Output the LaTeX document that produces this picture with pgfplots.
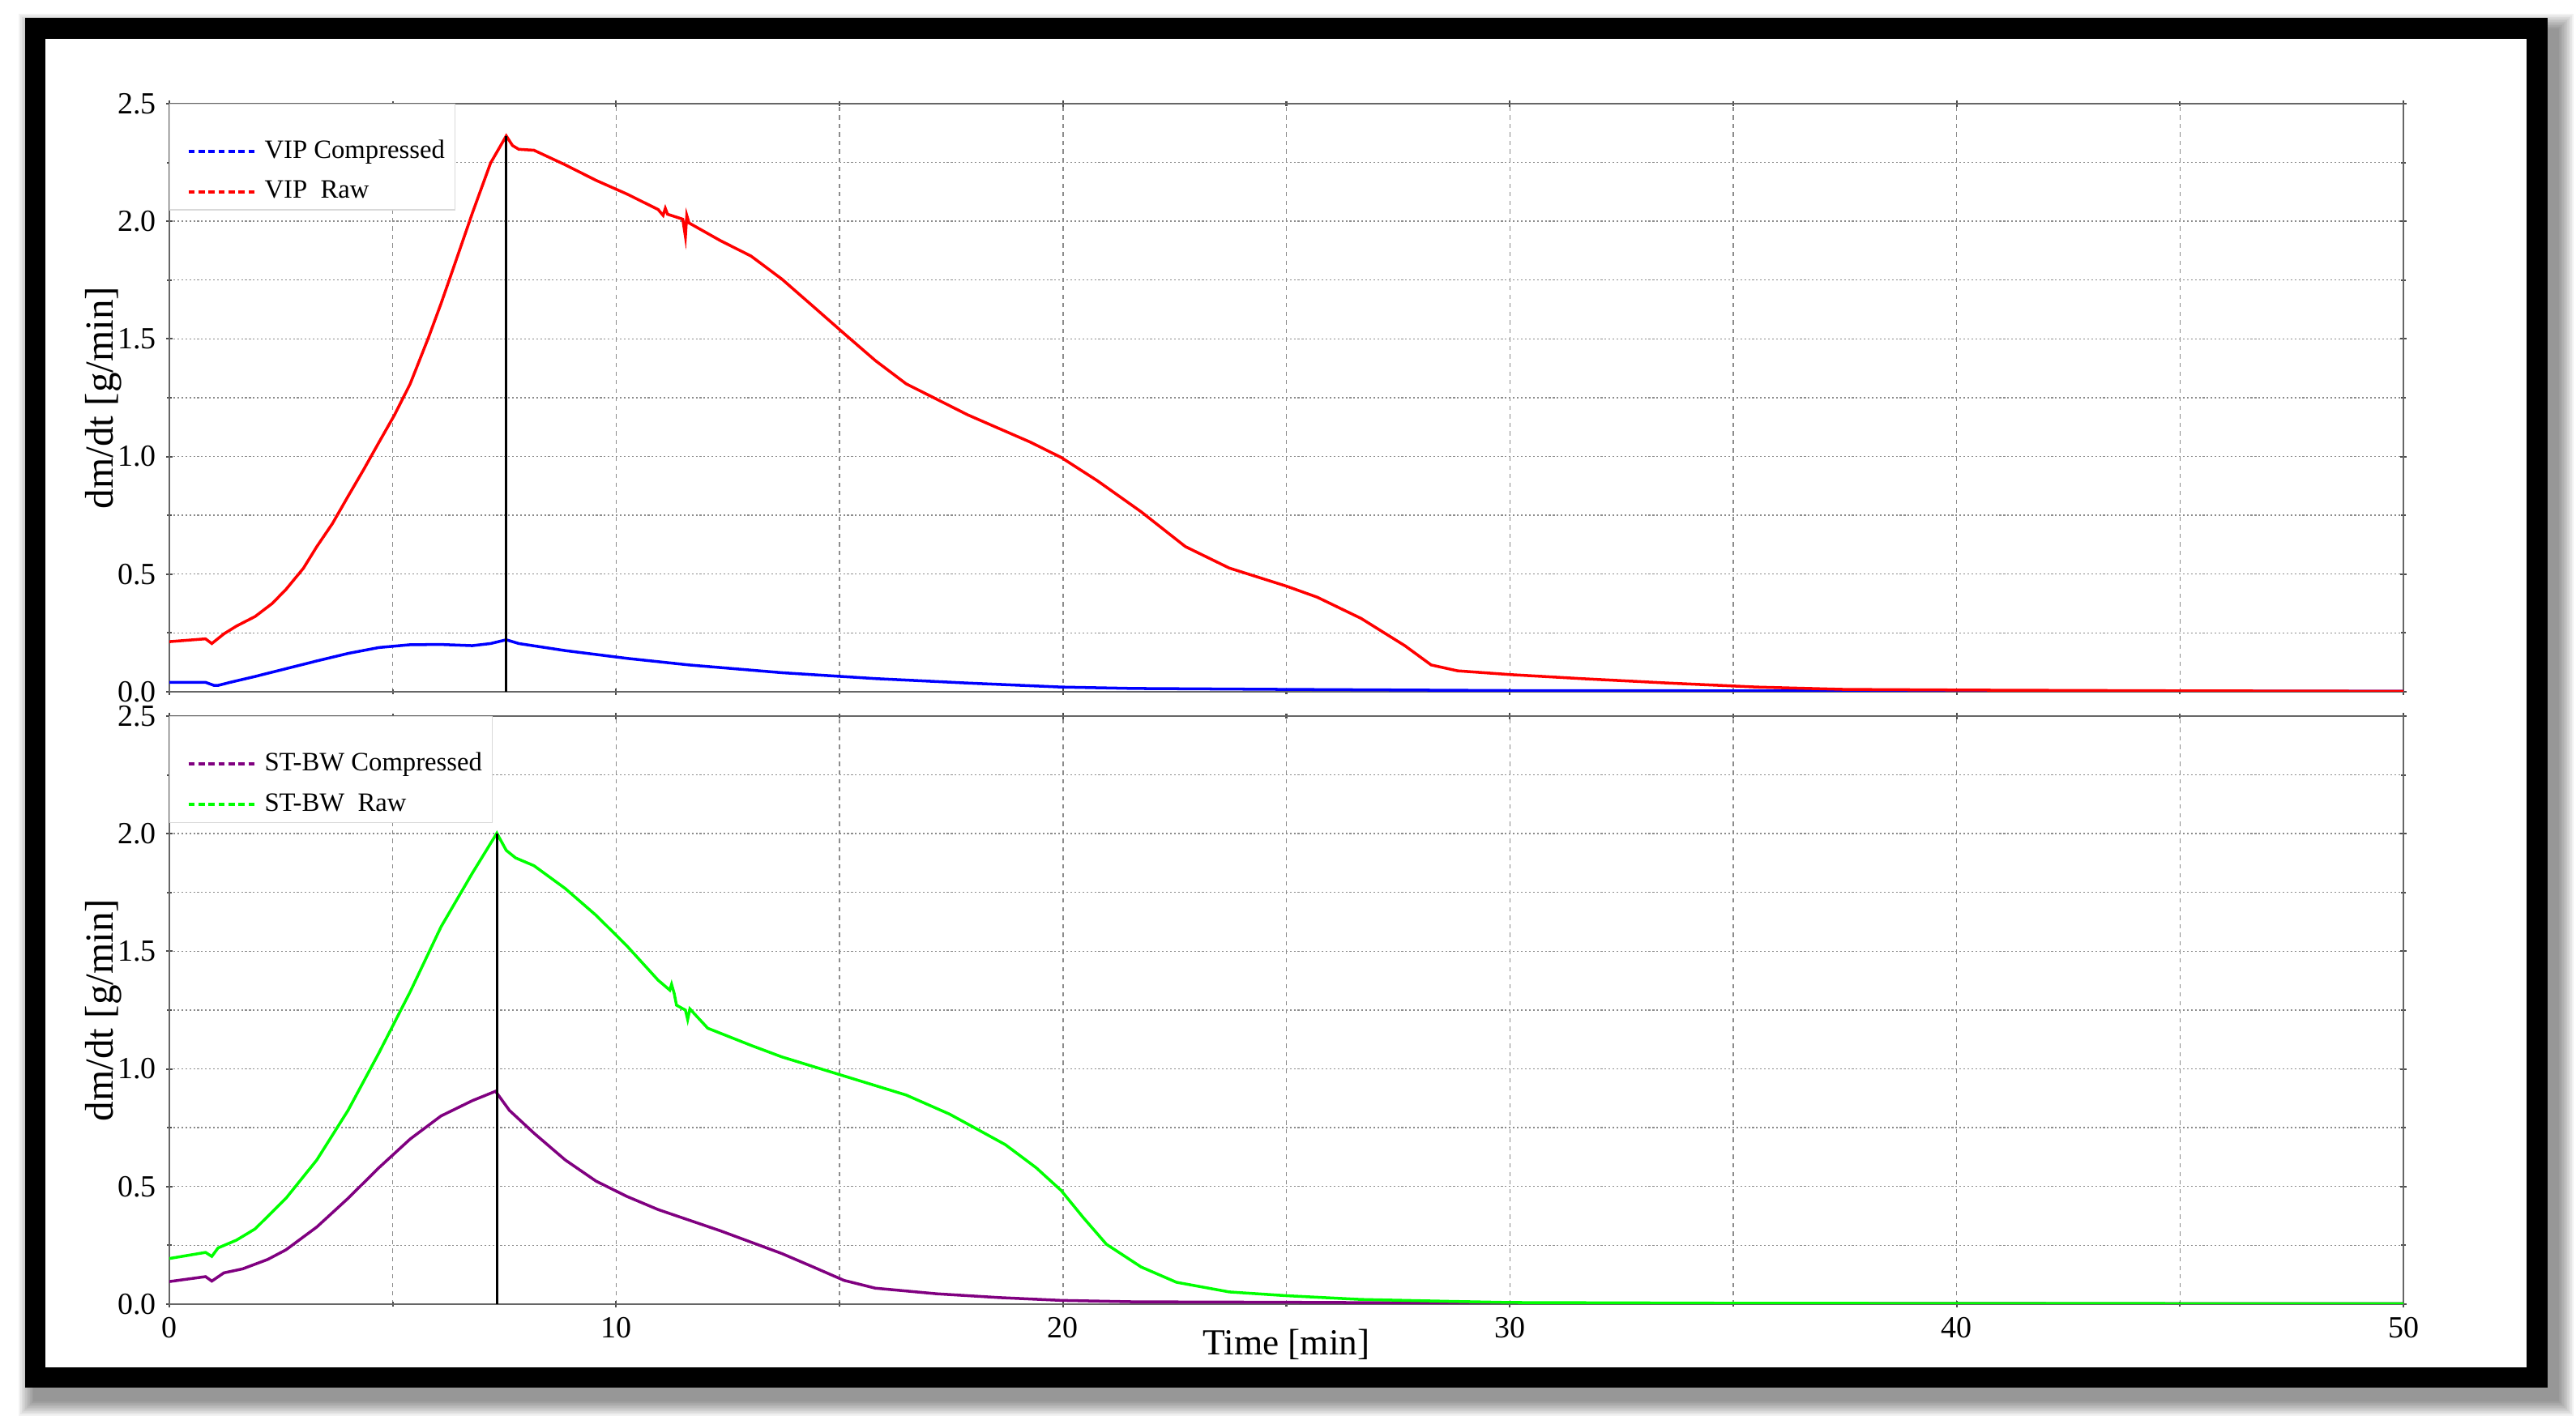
\documentclass[border=0pt]{standalone}
\usepackage{pgfplots}
\pgfplotsset{compat=1.18}
\usepackage{fontspec}
\setmainfont{Liberation Serif}

\definecolor{vipblue}{RGB}{0,0,255}
\definecolor{vipred}{RGB}{255,0,0}
\definecolor{stpurple}{RGB}{128,0,128}
\definecolor{stgreen}{RGB}{0,255,0}

\pgfplotsset{
  myaxis/.style={
    scale only axis,
    width=27.57cm, height=7.26cm,
    xmin=0, xmax=50, ymin=0, ymax=2.5,
    xtick={0,10,...,50}, minor x tick num=1,
    ytick={0,0.5,...,2.5}, minor y tick num=1,
    xmajorgrids, xminorgrids, ymajorgrids, yminorgrids,
    x grid style={draw=black!45, line width=0.4pt, dash pattern=on 1.5pt off 1.5pt},
    y grid style={draw=black!45, line width=0.4pt, dash pattern=on 0.6pt off 0.8pt},
    axis line style={draw=black!60, line width=0.7pt},
    tick align=center,
    major tick length=0.08cm, minor tick length=0.06cm,
    every tick/.style={draw=black!70, line width=0.6pt},
    /pgf/number format/assume math mode=true,
    tick label style={font=\fontsize{10.8}{12}\selectfont},
    yticklabel style={/pgf/number format/.cd, fixed, fixed zerofill, precision=1},
    xticklabel style={/pgf/number format/.cd, fixed, precision=0},
    ylabel={dm/dt [g/min]},
    ylabel style={font=\fontsize{14}{16}\selectfont, at={(axis description cs:-0.0294,0.5)}, anchor=center, rotate=0},
    legend cell align=left,
    legend style={at={(axis description cs:0,1)}, anchor=north west,
      draw=black!15, fill=white, font=\fontsize{9.3}{11}\selectfont,
      inner xsep=1.5pt, inner ysep=0.5pt, row sep=2.5pt},
    legend image code/.code={\path (0cm,0cm); \draw[#1, dash pattern=on 2.2pt off 1.3pt] (0.16cm,0cm) -- (1.01cm,0cm);},
  }
}

\begin{document}
\begin{tikzpicture}
\useasboundingbox (0,0) rectangle (31.79,17.53);
% drop shadow
\foreach \k in {1,...,10}{
  \pgfmathsetmacro\e{0.02*\k}
  \fill[black,opacity=0.05] ({0.43-\e},{0.25-\e}) rectangle ({31.56+\e},{17.16+\e});
}
\fill[black] (0.31,0.40) rectangle (31.44,17.31);
\fill[white] (0.56,0.65) rectangle (31.18,17.05);

% ---------- top axis ----------
\begin{axis}[myaxis, at={(2.09cm,8.99cm)}, anchor=south west, xticklabels={}]
\addplot[vipblue, line width=1pt, legend image post style={yshift=-5.1pt}] coordinates {
(0,0.040) (0.81,0.040) (1.0,0.027) (1.09,0.027) (1.36,0.040) (1.92,0.065) (2.61,0.098)
(3.3,0.131) (4.0,0.163) (4.69,0.188) (5.39,0.200) (6.08,0.201) (6.78,0.196) (7.19,0.205)
(7.54,0.221) (7.82,0.205) (8.86,0.175) (10.24,0.142) (11.63,0.114) (13.71,0.081)
(15.8,0.056) (17.87,0.037) (19.96,0.020) (21.59,0.014) (25,0.010) (30,0.005) (35,0.004)
(40,0.003) (50,0.002)};
\addlegendentry{\rule{0pt}{16.5pt}VIP Compressed}
\addplot[vipred, line width=1pt] coordinates {
(0,0.213) (0.81,0.225) (0.95,0.205) (1.22,0.246) (1.5,0.279) (1.92,0.320) (2.3,0.375)
(2.61,0.435) (3.0,0.525) (3.3,0.617) (3.65,0.715) (4.0,0.831) (4.35,0.945) (4.69,1.060)
(5.04,1.177) (5.39,1.309) (5.8,1.506) (6.08,1.650) (6.36,1.803) (6.78,2.034) (7.19,2.248)
(7.54,2.363) (7.68,2.322) (7.82,2.306) (8.16,2.302) (8.86,2.240)
(9.55,2.174) (10.24,2.116) (10.94,2.050) (11.05,2.025) (11.1,2.055) (11.15,2.030)
(11.49,2.009) (11.55,1.935) (11.58,2.025) (11.63,1.993) (12.33,1.918) (13.02,1.852)
(13.71,1.754) (14.41,1.638) (15.1,1.523) (15.8,1.408) (16.49,1.309) (17.18,1.243)
(17.87,1.177) (18.57,1.119) (19.26,1.062) (19.96,0.996) (20.77,0.897) (21.75,0.765)
(22.74,0.617) (23.72,0.526) (25.0,0.449) (25.69,0.402) (26.67,0.312) (27.65,0.196)
(28.24,0.114) (28.83,0.089) (30.01,0.073) (31.59,0.056) (33.55,0.037) (35.52,0.020)
(37.49,0.010) (40.44,0.007) (45,0.004) (50,0.002)};
\addlegendentry{VIP\enspace Raw}
\addplot[black, line width=0.8pt, forget plot] coordinates {(7.54,0) (7.54,2.363)};
\end{axis}

% ---------- bottom axis ----------
\begin{axis}[myaxis, at={(2.09cm,1.43cm)}, anchor=south west,
  xlabel={Time [min]},
  xlabel style={font=\fontsize{12.9}{14}\selectfont, at={(axis description cs:0.5,-0.069)}, anchor=center}]
\addplot[stpurple, line width=1pt, legend image post style={yshift=-5.1pt}] coordinates {
(0,0.096) (0.81,0.117) (0.95,0.098) (1.22,0.133) (1.64,0.150) (2.2,0.190) (2.61,0.231)
(3.3,0.328) (4.0,0.450) (4.69,0.580) (5.39,0.702) (6.08,0.800) (6.78,0.865) (7.3,0.905)
(7.61,0.824) (8.16,0.727) (8.86,0.613) (9.55,0.523) (10.24,0.458) (10.94,0.402)
(12.33,0.312) (13.71,0.215) (14.41,0.158) (15.1,0.101) (15.8,0.068) (17.18,0.044)
(18.57,0.028) (19.96,0.016) (21.59,0.010) (25,0.008) (29.6,0.004) (35,0.003) (50,0.002)};
\addlegendentry{\rule{0pt}{16.5pt}ST-BW Compressed}
\addplot[stgreen, line width=1pt] coordinates {
(0,0.194) (0.81,0.220) (0.95,0.203) (1.09,0.239) (1.5,0.272) (1.92,0.320) (2.61,0.450)
(3.3,0.613) (4.0,0.824) (4.69,1.068) (5.39,1.328) (6.08,1.604) (6.78,1.832) (7.33,2.002)
(7.54,1.929) (7.75,1.897) (8.16,1.864) (8.86,1.767) (9.55,1.653) (10.24,1.523)
(10.94,1.377) (11.2,1.335) (11.24,1.360) (11.3,1.320) (11.35,1.271) (11.55,1.250)
(11.6,1.210) (11.65,1.255) (12.05,1.173) (13.02,1.100) (13.71,1.051) (15.1,0.970)
(16.49,0.889) (17.46,0.808) (18.01,0.751) (18.71,0.678) (19.4,0.580) (19.96,0.483)
(20.45,0.369) (20.97,0.255) (21.75,0.158) (22.54,0.093) (23.72,0.052) (25.0,0.036)
(26.67,0.020) (28.64,0.012) (30,0.007) (35,0.004) (40,0.003) (50,0.002)};
\addlegendentry{ST-BW\enspace Raw}
\addplot[black, line width=0.8pt, forget plot] coordinates {(7.33,0) (7.33,2.002)};
\end{axis}
\end{tikzpicture}
\end{document}
